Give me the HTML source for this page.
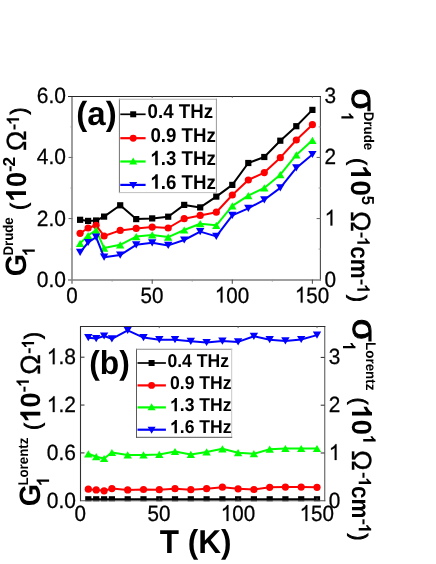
<!DOCTYPE html>
<html><head><meta charset="utf-8"><title>chart</title>
<style>
html,body{margin:0;padding:0;background:#fff;}
body{width:436px;height:564px;overflow:hidden;font-family:"Liberation Sans",sans-serif;}
svg{display:block;will-change:transform;}
svg text{font-family:"Liberation Sans",sans-serif;fill:#000;text-rendering:geometricPrecision;}
</style></head><body>
<svg width="436" height="564" viewBox="0 0 436 564">
<rect x="0" y="0" width="436" height="564" fill="#ffffff"/>

<!-- top panel data -->
<polyline points="80.1,219.8 88.1,220.9 96.1,220.5 104.1,216.6 120.2,205.3 136.2,219.1 152.2,218.4 168.2,216.7 184.2,204.9 200.2,207.4 216.3,196.6 232.3,184.9 248.3,163.0 264.3,157.0 280.3,140.7 296.3,126.2 312.4,109.9" fill="none" stroke="#000000" stroke-width="2.0" stroke-linejoin="round"/>
<rect x="77.0" y="216.7" width="6.2" height="6.2" fill="#000000"/>
<rect x="85.0" y="217.8" width="6.2" height="6.2" fill="#000000"/>
<rect x="93.0" y="217.4" width="6.2" height="6.2" fill="#000000"/>
<rect x="101.0" y="213.5" width="6.2" height="6.2" fill="#000000"/>
<rect x="117.1" y="202.2" width="6.2" height="6.2" fill="#000000"/>
<rect x="133.1" y="216.0" width="6.2" height="6.2" fill="#000000"/>
<rect x="149.1" y="215.3" width="6.2" height="6.2" fill="#000000"/>
<rect x="165.1" y="213.6" width="6.2" height="6.2" fill="#000000"/>
<rect x="181.1" y="201.8" width="6.2" height="6.2" fill="#000000"/>
<rect x="197.1" y="204.3" width="6.2" height="6.2" fill="#000000"/>
<rect x="213.2" y="193.5" width="6.2" height="6.2" fill="#000000"/>
<rect x="229.2" y="181.8" width="6.2" height="6.2" fill="#000000"/>
<rect x="245.2" y="159.9" width="6.2" height="6.2" fill="#000000"/>
<rect x="261.2" y="153.9" width="6.2" height="6.2" fill="#000000"/>
<rect x="277.2" y="137.6" width="6.2" height="6.2" fill="#000000"/>
<rect x="293.2" y="123.1" width="6.2" height="6.2" fill="#000000"/>
<rect x="309.3" y="106.8" width="6.2" height="6.2" fill="#000000"/>
<polyline points="80.1,233.3 88.1,228.0 96.1,225.3 104.1,236.0 120.2,230.4 136.2,228.4 152.2,227.1 168.2,228.0 184.2,218.7 200.2,215.4 216.3,212.2 232.3,195.0 248.3,180.0 264.3,172.6 280.3,157.7 296.3,140.0 312.4,124.7" fill="none" stroke="#ff0000" stroke-width="2.0" stroke-linejoin="round"/>
<circle cx="80.1" cy="233.3" r="3.6" fill="#ff0000"/>
<circle cx="88.1" cy="228.0" r="3.6" fill="#ff0000"/>
<circle cx="96.1" cy="225.3" r="3.6" fill="#ff0000"/>
<circle cx="104.1" cy="236.0" r="3.6" fill="#ff0000"/>
<circle cx="120.2" cy="230.4" r="3.6" fill="#ff0000"/>
<circle cx="136.2" cy="228.4" r="3.6" fill="#ff0000"/>
<circle cx="152.2" cy="227.1" r="3.6" fill="#ff0000"/>
<circle cx="168.2" cy="228.0" r="3.6" fill="#ff0000"/>
<circle cx="184.2" cy="218.7" r="3.6" fill="#ff0000"/>
<circle cx="200.2" cy="215.4" r="3.6" fill="#ff0000"/>
<circle cx="216.3" cy="212.2" r="3.6" fill="#ff0000"/>
<circle cx="232.3" cy="195.0" r="3.6" fill="#ff0000"/>
<circle cx="248.3" cy="180.0" r="3.6" fill="#ff0000"/>
<circle cx="264.3" cy="172.6" r="3.6" fill="#ff0000"/>
<circle cx="280.3" cy="157.7" r="3.6" fill="#ff0000"/>
<circle cx="296.3" cy="140.0" r="3.6" fill="#ff0000"/>
<circle cx="312.4" cy="124.7" r="3.6" fill="#ff0000"/>
<polyline points="80.1,243.4 88.1,235.5 96.1,230.2 104.1,248.1 120.2,244.8 136.2,236.6 152.2,234.9 168.2,237.1 184.2,230.0 200.2,223.7 216.3,225.3 232.3,205.9 248.3,195.6 264.3,187.9 280.3,174.7 296.3,154.9 312.4,140.3" fill="none" stroke="#00ff00" stroke-width="2.0" stroke-linejoin="round"/>
<polygon points="80.1,239.8 84.3,247.0 75.9,247.0" fill="#00ff00"/>
<polygon points="88.1,231.9 92.3,239.1 83.9,239.1" fill="#00ff00"/>
<polygon points="96.1,226.6 100.3,233.8 91.9,233.8" fill="#00ff00"/>
<polygon points="104.1,244.5 108.3,251.7 99.9,251.7" fill="#00ff00"/>
<polygon points="120.2,241.2 124.4,248.4 116.0,248.4" fill="#00ff00"/>
<polygon points="136.2,233.0 140.4,240.2 132.0,240.2" fill="#00ff00"/>
<polygon points="152.2,231.3 156.4,238.5 148.0,238.5" fill="#00ff00"/>
<polygon points="168.2,233.5 172.4,240.7 164.0,240.7" fill="#00ff00"/>
<polygon points="184.2,226.4 188.4,233.6 180.0,233.6" fill="#00ff00"/>
<polygon points="200.2,220.1 204.4,227.3 196.0,227.3" fill="#00ff00"/>
<polygon points="216.3,221.7 220.5,228.9 212.1,228.9" fill="#00ff00"/>
<polygon points="232.3,202.3 236.5,209.5 228.1,209.5" fill="#00ff00"/>
<polygon points="248.3,192.0 252.5,199.2 244.1,199.2" fill="#00ff00"/>
<polygon points="264.3,184.3 268.5,191.5 260.1,191.5" fill="#00ff00"/>
<polygon points="280.3,171.1 284.5,178.3 276.1,178.3" fill="#00ff00"/>
<polygon points="296.3,151.3 300.5,158.5 292.1,158.5" fill="#00ff00"/>
<polygon points="312.4,136.7 316.6,143.9 308.2,143.9" fill="#00ff00"/>
<polyline points="80.1,252.4 88.1,242.5 96.1,237.2 104.1,257.2 120.2,255.1 136.2,244.8 152.2,242.8 168.2,245.4 184.2,240.0 200.2,231.6 216.3,236.4 232.3,215.4 248.3,208.3 264.3,199.8 280.3,187.9 296.3,167.9 312.4,154.5" fill="none" stroke="#0000ff" stroke-width="2.0" stroke-linejoin="round"/>
<polygon points="75.9,248.8 84.3,248.8 80.1,256.0" fill="#0000ff"/>
<polygon points="83.9,238.9 92.3,238.9 88.1,246.1" fill="#0000ff"/>
<polygon points="91.9,233.6 100.3,233.6 96.1,240.8" fill="#0000ff"/>
<polygon points="99.9,253.6 108.3,253.6 104.1,260.8" fill="#0000ff"/>
<polygon points="116.0,251.5 124.4,251.5 120.2,258.7" fill="#0000ff"/>
<polygon points="132.0,241.2 140.4,241.2 136.2,248.4" fill="#0000ff"/>
<polygon points="148.0,239.2 156.4,239.2 152.2,246.4" fill="#0000ff"/>
<polygon points="164.0,241.8 172.4,241.8 168.2,249.0" fill="#0000ff"/>
<polygon points="180.0,236.4 188.4,236.4 184.2,243.6" fill="#0000ff"/>
<polygon points="196.0,228.0 204.4,228.0 200.2,235.2" fill="#0000ff"/>
<polygon points="212.1,232.8 220.5,232.8 216.3,240.0" fill="#0000ff"/>
<polygon points="228.1,211.8 236.5,211.8 232.3,219.0" fill="#0000ff"/>
<polygon points="244.1,204.7 252.5,204.7 248.3,211.9" fill="#0000ff"/>
<polygon points="260.1,196.2 268.5,196.2 264.3,203.4" fill="#0000ff"/>
<polygon points="276.1,184.3 284.5,184.3 280.3,191.5" fill="#0000ff"/>
<polygon points="292.1,164.3 300.5,164.3 296.3,171.5" fill="#0000ff"/>
<polygon points="308.2,150.9 316.6,150.9 312.4,158.1" fill="#0000ff"/>
<line x1="72.00" y1="96.40" x2="72.00" y2="283.70" stroke="#9a9a9a" stroke-width="1.9"/>
<line x1="320.40" y1="95.90" x2="320.40" y2="280.60" stroke="#484848" stroke-width="1.1"/>
<line x1="68.00" y1="96.40" x2="320.95" y2="96.40" stroke="#262626" stroke-width="1.05"/>
<line x1="68.00" y1="279.95" x2="320.95" y2="279.95" stroke="#808080" stroke-width="1.6"/>
<line x1="68.50" y1="218.53" x2="72.50" y2="218.53" stroke="#6e6e6e" stroke-width="1.1"/>
<line x1="68.50" y1="157.47" x2="72.50" y2="157.47" stroke="#6e6e6e" stroke-width="1.1"/>
<line x1="70.50" y1="249.07" x2="72.50" y2="249.07" stroke="#9a9a9a" stroke-width="1"/>
<line x1="70.50" y1="188.00" x2="72.50" y2="188.00" stroke="#9a9a9a" stroke-width="1"/>
<line x1="70.50" y1="126.93" x2="72.50" y2="126.93" stroke="#9a9a9a" stroke-width="1"/>
<line x1="316.60" y1="218.53" x2="320.60" y2="218.53" stroke="#6e6e6e" stroke-width="1.1"/>
<line x1="316.60" y1="157.47" x2="320.60" y2="157.47" stroke="#6e6e6e" stroke-width="1.1"/>
<line x1="318.60" y1="249.07" x2="320.60" y2="249.07" stroke="#9a9a9a" stroke-width="1"/>
<line x1="318.60" y1="188.00" x2="320.60" y2="188.00" stroke="#9a9a9a" stroke-width="1"/>
<line x1="318.60" y1="126.93" x2="320.60" y2="126.93" stroke="#9a9a9a" stroke-width="1"/>
<line x1="152.19" y1="279.60" x2="152.19" y2="283.80" stroke="#444" stroke-width="1.0"/>
<line x1="232.27" y1="279.60" x2="232.27" y2="283.80" stroke="#444" stroke-width="1.0"/>
<line x1="312.36" y1="279.60" x2="312.36" y2="283.80" stroke="#444" stroke-width="1.0"/>
<line x1="112.14" y1="279.60" x2="112.14" y2="281.60" stroke="#9a9a9a" stroke-width="1"/>
<line x1="192.23" y1="279.60" x2="192.23" y2="281.60" stroke="#9a9a9a" stroke-width="1"/>
<line x1="272.31" y1="279.60" x2="272.31" y2="281.60" stroke="#9a9a9a" stroke-width="1"/>
<line x1="152.19" y1="96.40" x2="152.19" y2="97.90" stroke="#666" stroke-width="1"/>
<line x1="232.27" y1="96.40" x2="232.27" y2="97.90" stroke="#666" stroke-width="1"/>
<line x1="312.36" y1="96.40" x2="312.36" y2="97.90" stroke="#666" stroke-width="1"/>
<g transform="translate(36.81,286.60) scale(1.000,1.050)"><text x="0.00" y="0" font-size="21.0" font-weight="normal" stroke="#000" stroke-width="0.25" style="white-space:pre">0.0</text></g>
<g transform="translate(36.81,225.53) scale(1.000,1.050)"><text x="0.00" y="0" font-size="21.0" font-weight="normal" stroke="#000" stroke-width="0.25" style="white-space:pre">2.0</text></g>
<g transform="translate(36.81,164.47) scale(1.000,1.050)"><text x="0.00" y="0" font-size="21.0" font-weight="normal" stroke="#000" stroke-width="0.25" style="white-space:pre">4.0</text></g>
<g transform="translate(36.81,103.40) scale(1.000,1.050)"><text x="0.00" y="0" font-size="21.0" font-weight="normal" stroke="#000" stroke-width="0.25" style="white-space:pre">6.0</text></g>
<g transform="translate(324.60,286.60) scale(1.000,1.060)"><text x="0.00" y="0" font-size="20.8" font-weight="normal" stroke="#000" stroke-width="0.25" style="white-space:pre">0</text></g>
<g transform="translate(324.60,225.53) scale(1.000,1.060)"><path transform="translate(0.00,0) scale(0.01016,-0.01016)" stroke="#000" stroke-width="24.6" d="M763 0H583V1147Q518 1085 412.5 1023T223 930V1104Q374 1175 487 1276T647 1472H763Z"/></g>
<g transform="translate(324.60,164.47) scale(1.000,1.060)"><text x="0.00" y="0" font-size="20.8" font-weight="normal" stroke="#000" stroke-width="0.25" style="white-space:pre">2</text></g>
<g transform="translate(324.60,103.40) scale(1.000,1.060)"><text x="0.00" y="0" font-size="20.8" font-weight="normal" stroke="#000" stroke-width="0.25" style="white-space:pre">3</text></g>
<g transform="translate(66.27,302.60) scale(1.000,1.070)"><text x="0.00" y="0" font-size="20.6" font-weight="normal" stroke="#000" stroke-width="0.25" style="white-space:pre">0</text></g>
<g transform="translate(140.43,302.60) scale(1.000,1.070)"><text x="0.00" y="0" font-size="20.6" font-weight="normal" stroke="#000" stroke-width="0.25" style="white-space:pre">50</text></g>
<g transform="translate(214.78,302.60) scale(1.000,1.070)"><path transform="translate(0.00,0) scale(0.01006,-0.01006)" stroke="#000" stroke-width="24.9" d="M763 0H583V1147Q518 1085 412.5 1023T223 930V1104Q374 1175 487 1276T647 1472H763Z"/><text x="11.45" y="0" font-size="20.6" font-weight="normal" stroke="#000" stroke-width="0.25" style="white-space:pre">00</text></g>
<g transform="translate(294.87,302.60) scale(1.000,1.070)"><path transform="translate(0.00,0) scale(0.01006,-0.01006)" stroke="#000" stroke-width="24.9" d="M763 0H583V1147Q518 1085 412.5 1023T223 930V1104Q374 1175 487 1276T647 1472H763Z"/><text x="11.45" y="0" font-size="20.6" font-weight="normal" stroke="#000" stroke-width="0.25" style="white-space:pre">50</text></g>
<rect x="119.4" y="99.2" width="97.0" height="93.4" fill="#fff"/>
<line x1="119.40" y1="98.70" x2="119.40" y2="193.10" stroke="#707070" stroke-width="1.0"/>
<line x1="118.90" y1="99.20" x2="216.90" y2="99.20" stroke="#b4b4b4" stroke-width="1.1"/>
<line x1="216.40" y1="98.70" x2="216.40" y2="193.10" stroke="#9a9a9a" stroke-width="1.0"/>
<line x1="118.90" y1="192.60" x2="216.90" y2="192.60" stroke="#c0c0c0" stroke-width="1.0"/>
<line x1="120.30" y1="114.30" x2="145.60" y2="114.30" stroke="#000000" stroke-width="1.7"/>
<rect x="130.2" y="111.3" width="6.0" height="6.0" fill="#000000"/>
<g transform="translate(147.60,118.10) scale(1.000,1.070)"><text x="0.00" y="0" font-size="18.7" font-weight="bold" style="white-space:pre">0.4 THz</text></g>
<line x1="120.30" y1="138.20" x2="145.60" y2="138.20" stroke="#ff0000" stroke-width="2.2"/>
<circle cx="133.2" cy="138.2" r="3.45" fill="#ff0000"/>
<g transform="translate(150.40,141.60) scale(1.000,1.070)"><text x="0.00" y="0" font-size="18.7" font-weight="bold" style="white-space:pre">0.9 THz</text></g>
<line x1="120.30" y1="161.50" x2="145.60" y2="161.50" stroke="#00ff00" stroke-width="2.2"/>
<polygon points="133.2,157.4 137.2,164.4 129.2,164.4" fill="#00ff00"/>
<g transform="translate(150.40,165.20) scale(1.000,1.070)"><path transform="translate(0.00,0) scale(0.00913,-0.00913)" d="M806 0H525V1059Q371 915 162 846V1101Q272 1137 401 1237.5T578 1472H806Z"/><text x="10.40" y="0" font-size="18.7" font-weight="bold" style="white-space:pre">.3 THz</text></g>
<line x1="120.30" y1="184.90" x2="145.60" y2="184.90" stroke="#0000ff" stroke-width="2.2"/>
<polygon points="129.2,182.0 137.2,182.0 133.2,189.0" fill="#0000ff"/>
<g transform="translate(150.40,188.70) scale(1.000,1.070)"><path transform="translate(0.00,0) scale(0.00913,-0.00913)" d="M806 0H525V1059Q371 915 162 846V1101Q272 1137 401 1237.5T578 1472H806Z"/><text x="10.40" y="0" font-size="18.7" font-weight="bold" style="white-space:pre">.6 THz</text></g>
<g transform="translate(76.35,124.60) scale(1.000,1.020)"><text x="0.00" y="0" font-size="33" font-weight="bold" style="white-space:pre">(a)</text></g>
<g transform="translate(26.0,277.0) rotate(-90)"><g transform="translate(0.76,0.00) scale(1.000,1.030)"><text x="0.00" y="0" font-size="28.6" font-weight="bold" style="white-space:pre">G</text></g><g transform="translate(20.99,8.80) scale(1.000,1.050)"><path transform="translate(0.00,0) scale(0.00806,-0.00806)" d="M806 0H525V1059Q371 915 162 846V1101Q272 1137 401 1237.5T578 1472H806Z"/></g><g transform="translate(21.40,-12.60) scale(0.990,1.050)"><text x="0.00" y="0" font-size="13.4" font-weight="bold" style="white-space:pre">Drude</text></g><g transform="translate(67.36,-0.40) scale(0.900,1.000)"><text x="0.00" y="0" font-size="22" font-weight="normal" stroke="#000" stroke-width="1.0" style="white-space:pre">(</text></g><g transform="translate(75.06,0.00) scale(1.020,1.050)"><path transform="translate(0.00,0) scale(0.01294,-0.01294)" d="M806 0H525V1059Q371 915 162 846V1101Q272 1137 401 1237.5T578 1472H806Z"/><text x="14.73" y="0" font-size="26.5" font-weight="bold" style="white-space:pre">0</text></g><g transform="translate(105.01,-11.40) scale(1.200,1.050)"><text x="0.00" y="0" font-size="16.5" font-weight="bold" style="white-space:pre">-</text></g><g transform="translate(110.59,-11.40) scale(1.050,1.050)"><text x="0.00" y="0" font-size="16.5" font-weight="bold" style="white-space:pre">2</text></g><g transform="translate(126.04,0.00) scale(1.030,1.050)"><text x="0.00" y="0" font-size="26.5" font-weight="normal" stroke="#000" stroke-width="0.35" style="white-space:pre">Ω</text></g><g transform="translate(146.71,-6.90) scale(1.200,1.050)"><text x="0.00" y="0" font-size="16.5" font-weight="bold" style="white-space:pre">-</text></g><g transform="translate(152.19,-6.90) scale(1.000,1.050)"><path transform="translate(0.00,0) scale(0.00806,-0.00806)" d="M806 0H525V1059Q371 915 162 846V1101Q272 1137 401 1237.5T578 1472H806Z"/></g><g transform="translate(162.65,-0.40) scale(0.900,1.000)"><text x="0.00" y="0" font-size="22" font-weight="normal" stroke="#000" stroke-width="1.0" style="white-space:pre">)</text></g></g>
<g transform="translate(351.0,88.0) rotate(90)"><g transform="translate(0.52,-0.60) scale(1.030,0.950)"><text x="0.00" y="0" font-size="36" font-weight="normal" stroke="#000" stroke-width="1.0" style="white-space:pre">σ</text></g><g transform="translate(24.13,9.60) scale(1.000,1.050)"><path transform="translate(0.00,0) scale(0.00781,-0.00781)" d="M806 0H525V1059Q371 915 162 846V1101Q272 1137 401 1237.5T578 1472H806Z"/></g><g transform="translate(23.80,-12.70) scale(0.990,1.050)"><text x="0.00" y="0" font-size="13.4" font-weight="bold" style="white-space:pre">Drude</text></g><g transform="translate(70.36,-0.40) scale(0.900,1.000)"><text x="0.00" y="0" font-size="22" font-weight="normal" stroke="#000" stroke-width="1.0" style="white-space:pre">(</text></g><g transform="translate(77.10,0.00) scale(1.050,1.050)"><path transform="translate(0.00,0) scale(0.01294,-0.01294)" d="M806 0H525V1059Q371 915 162 846V1101Q272 1137 401 1237.5T578 1472H806Z"/><text x="14.73" y="0" font-size="26.5" font-weight="bold" style="white-space:pre">0</text></g><g transform="translate(107.70,-10.80) scale(1.000,1.050)"><text x="0.00" y="0" font-size="16.5" font-weight="bold" style="white-space:pre">5</text></g><g transform="translate(123.14,0.00) scale(1.030,1.050)"><text x="0.00" y="0" font-size="26.5" font-weight="normal" stroke="#000" stroke-width="0.35" style="white-space:pre">Ω</text></g><g transform="translate(143.81,-6.30) scale(1.200,1.050)"><text x="0.00" y="0" font-size="16.5" font-weight="bold" style="white-space:pre">-</text></g><g transform="translate(149.29,-6.30) scale(1.000,1.050)"><path transform="translate(0.00,0) scale(0.00806,-0.00806)" d="M806 0H525V1059Q371 915 162 846V1101Q272 1137 401 1237.5T578 1472H806Z"/></g><g transform="translate(158.30,0.00) scale(1.000,1.120)"><text x="0.00" y="0" font-size="22.5" font-weight="bold" style="white-space:pre">cm</text></g><g transform="translate(190.81,-6.30) scale(1.200,1.050)"><text x="0.00" y="0" font-size="16.5" font-weight="bold" style="white-space:pre">-</text></g><g transform="translate(196.29,-6.30) scale(1.000,1.050)"><path transform="translate(0.00,0) scale(0.00806,-0.00806)" d="M806 0H525V1059Q371 915 162 846V1101Q272 1137 401 1237.5T578 1472H806Z"/></g><g transform="translate(207.15,-0.40) scale(0.900,1.000)"><text x="0.00" y="0" font-size="22" font-weight="normal" stroke="#000" stroke-width="1.0" style="white-space:pre">)</text></g></g>
<!-- bottom panel data -->
<clipPath id="cb"><rect x="80" y="326" width="245" height="175.2"/></clipPath><g clip-path="url(#cb)">
<polyline points="88.3,499.3 96.2,499.3 104.1,499.3 111.9,499.3 127.7,499.3 143.5,499.3 159.3,499.3 175.0,499.3 190.8,499.3 206.6,499.3 222.4,499.3 238.1,499.3 253.9,499.3 269.7,499.3 285.4,499.3 301.2,499.3 317.0,499.3" fill="none" stroke="#000000" stroke-width="2.0" stroke-linejoin="round"/>
<rect x="85.2" y="496.2" width="6.2" height="6.2" fill="#000000"/>
<rect x="93.1" y="496.2" width="6.2" height="6.2" fill="#000000"/>
<rect x="101.0" y="496.2" width="6.2" height="6.2" fill="#000000"/>
<rect x="108.8" y="496.2" width="6.2" height="6.2" fill="#000000"/>
<rect x="124.6" y="496.2" width="6.2" height="6.2" fill="#000000"/>
<rect x="140.4" y="496.2" width="6.2" height="6.2" fill="#000000"/>
<rect x="156.2" y="496.2" width="6.2" height="6.2" fill="#000000"/>
<rect x="171.9" y="496.2" width="6.2" height="6.2" fill="#000000"/>
<rect x="187.7" y="496.2" width="6.2" height="6.2" fill="#000000"/>
<rect x="203.5" y="496.2" width="6.2" height="6.2" fill="#000000"/>
<rect x="219.3" y="496.2" width="6.2" height="6.2" fill="#000000"/>
<rect x="235.0" y="496.2" width="6.2" height="6.2" fill="#000000"/>
<rect x="250.8" y="496.2" width="6.2" height="6.2" fill="#000000"/>
<rect x="266.6" y="496.2" width="6.2" height="6.2" fill="#000000"/>
<rect x="282.3" y="496.2" width="6.2" height="6.2" fill="#000000"/>
<rect x="298.1" y="496.2" width="6.2" height="6.2" fill="#000000"/>
<rect x="313.9" y="496.2" width="6.2" height="6.2" fill="#000000"/>
<polyline points="88.3,489.2 96.2,489.9 104.1,490.8 111.9,488.6 127.7,489.9 143.5,489.5 159.3,489.7 175.0,488.7 190.8,489.7 206.6,488.7 222.4,487.2 238.1,488.8 253.9,489.5 269.7,487.3 285.4,487.1 301.2,487.1 317.0,487.3" fill="none" stroke="#ff0000" stroke-width="2.0" stroke-linejoin="round"/>
<circle cx="88.3" cy="489.2" r="3.6" fill="#ff0000"/>
<circle cx="96.2" cy="489.9" r="3.6" fill="#ff0000"/>
<circle cx="104.1" cy="490.8" r="3.6" fill="#ff0000"/>
<circle cx="111.9" cy="488.6" r="3.6" fill="#ff0000"/>
<circle cx="127.7" cy="489.9" r="3.6" fill="#ff0000"/>
<circle cx="143.5" cy="489.5" r="3.6" fill="#ff0000"/>
<circle cx="159.3" cy="489.7" r="3.6" fill="#ff0000"/>
<circle cx="175.0" cy="488.7" r="3.6" fill="#ff0000"/>
<circle cx="190.8" cy="489.7" r="3.6" fill="#ff0000"/>
<circle cx="206.6" cy="488.7" r="3.6" fill="#ff0000"/>
<circle cx="222.4" cy="487.2" r="3.6" fill="#ff0000"/>
<circle cx="238.1" cy="488.8" r="3.6" fill="#ff0000"/>
<circle cx="253.9" cy="489.5" r="3.6" fill="#ff0000"/>
<circle cx="269.7" cy="487.3" r="3.6" fill="#ff0000"/>
<circle cx="285.4" cy="487.1" r="3.6" fill="#ff0000"/>
<circle cx="301.2" cy="487.1" r="3.6" fill="#ff0000"/>
<circle cx="317.0" cy="487.3" r="3.6" fill="#ff0000"/>
<polyline points="88.3,453.8 96.2,456.7 104.1,458.5 111.9,452.5 127.7,454.9 143.5,454.9 159.3,454.4 175.0,451.5 190.8,454.4 206.6,451.9 222.4,448.8 238.1,452.7 253.9,453.7 269.7,449.2 285.4,448.5 301.2,448.5 317.0,448.5" fill="none" stroke="#00ff00" stroke-width="2.0" stroke-linejoin="round"/>
<polygon points="88.3,450.2 92.5,457.4 84.1,457.4" fill="#00ff00"/>
<polygon points="96.2,453.1 100.4,460.3 92.0,460.3" fill="#00ff00"/>
<polygon points="104.1,454.9 108.3,462.1 99.9,462.1" fill="#00ff00"/>
<polygon points="111.9,448.9 116.1,456.1 107.7,456.1" fill="#00ff00"/>
<polygon points="127.7,451.3 131.9,458.5 123.5,458.5" fill="#00ff00"/>
<polygon points="143.5,451.3 147.7,458.5 139.3,458.5" fill="#00ff00"/>
<polygon points="159.3,450.8 163.5,458.0 155.1,458.0" fill="#00ff00"/>
<polygon points="175.0,447.9 179.2,455.1 170.8,455.1" fill="#00ff00"/>
<polygon points="190.8,450.8 195.0,458.0 186.6,458.0" fill="#00ff00"/>
<polygon points="206.6,448.3 210.8,455.5 202.4,455.5" fill="#00ff00"/>
<polygon points="222.4,445.2 226.6,452.4 218.2,452.4" fill="#00ff00"/>
<polygon points="238.1,449.1 242.3,456.3 233.9,456.3" fill="#00ff00"/>
<polygon points="253.9,450.1 258.1,457.3 249.7,457.3" fill="#00ff00"/>
<polygon points="269.7,445.6 273.9,452.8 265.5,452.8" fill="#00ff00"/>
<polygon points="285.4,444.9 289.6,452.1 281.2,452.1" fill="#00ff00"/>
<polygon points="301.2,444.9 305.4,452.1 297.0,452.1" fill="#00ff00"/>
<polygon points="317.0,444.9 321.2,452.1 312.8,452.1" fill="#00ff00"/>
<polyline points="88.3,337.7 96.2,338.6 104.1,336.0 111.9,338.8 127.7,330.4 143.5,337.6 159.3,339.7 175.0,339.7 190.8,341.3 206.6,342.5 222.4,341.1 238.1,341.9 253.9,336.3 269.7,339.7 285.4,340.9 301.2,339.5 317.0,335.1" fill="none" stroke="#0000ff" stroke-width="2.0" stroke-linejoin="round"/>
<polygon points="84.1,334.1 92.5,334.1 88.3,341.3" fill="#0000ff"/>
<polygon points="92.0,335.0 100.4,335.0 96.2,342.2" fill="#0000ff"/>
<polygon points="99.9,332.4 108.3,332.4 104.1,339.6" fill="#0000ff"/>
<polygon points="107.7,335.2 116.1,335.2 111.9,342.4" fill="#0000ff"/>
<polygon points="123.5,326.8 131.9,326.8 127.7,334.0" fill="#0000ff"/>
<polygon points="139.3,334.0 147.7,334.0 143.5,341.2" fill="#0000ff"/>
<polygon points="155.1,336.1 163.5,336.1 159.3,343.3" fill="#0000ff"/>
<polygon points="170.8,336.1 179.2,336.1 175.0,343.3" fill="#0000ff"/>
<polygon points="186.6,337.7 195.0,337.7 190.8,344.9" fill="#0000ff"/>
<polygon points="202.4,338.9 210.8,338.9 206.6,346.1" fill="#0000ff"/>
<polygon points="218.2,337.5 226.6,337.5 222.4,344.7" fill="#0000ff"/>
<polygon points="233.9,338.3 242.3,338.3 238.1,345.5" fill="#0000ff"/>
<polygon points="249.7,332.7 258.1,332.7 253.9,339.9" fill="#0000ff"/>
<polygon points="265.5,336.1 273.9,336.1 269.7,343.3" fill="#0000ff"/>
<polygon points="281.2,337.3 289.6,337.3 285.4,344.5" fill="#0000ff"/>
<polygon points="297.0,335.9 305.4,335.9 301.2,343.1" fill="#0000ff"/>
<polygon points="312.8,331.5 321.2,331.5 317.0,338.7" fill="#0000ff"/>
</g>
<line x1="80.50" y1="326.00" x2="80.50" y2="501.25" stroke="#303030" stroke-width="1.1"/>
<line x1="324.70" y1="326.00" x2="324.70" y2="501.25" stroke="#777" stroke-width="1.3"/>
<line x1="80.50" y1="326.50" x2="325.30" y2="326.50" stroke="#2c2c2c" stroke-width="1.05"/>
<line x1="80.50" y1="500.75" x2="325.30" y2="500.75" stroke="#555" stroke-width="1.1"/>
<line x1="80.50" y1="452.90" x2="84.50" y2="452.90" stroke="#3c3c3c" stroke-width="1.1"/>
<line x1="80.50" y1="405.05" x2="84.50" y2="405.05" stroke="#3c3c3c" stroke-width="1.1"/>
<line x1="80.50" y1="357.20" x2="84.50" y2="357.20" stroke="#3c3c3c" stroke-width="1.1"/>
<line x1="320.70" y1="452.98" x2="324.70" y2="452.98" stroke="#3c3c3c" stroke-width="1.1"/>
<line x1="320.70" y1="405.21" x2="324.70" y2="405.21" stroke="#3c3c3c" stroke-width="1.1"/>
<line x1="320.70" y1="357.44" x2="324.70" y2="357.44" stroke="#3c3c3c" stroke-width="1.1"/>
<line x1="159.26" y1="497.75" x2="159.26" y2="500.75" stroke="#3c3c3c" stroke-width="1.0"/>
<line x1="159.26" y1="326.50" x2="159.26" y2="328.10" stroke="#666" stroke-width="1.0"/>
<line x1="238.13" y1="497.75" x2="238.13" y2="500.75" stroke="#3c3c3c" stroke-width="1.0"/>
<line x1="238.13" y1="326.50" x2="238.13" y2="328.10" stroke="#666" stroke-width="1.0"/>
<line x1="317.00" y1="497.75" x2="317.00" y2="500.75" stroke="#3c3c3c" stroke-width="1.0"/>
<line x1="317.00" y1="326.50" x2="317.00" y2="328.10" stroke="#666" stroke-width="1.0"/>
<g transform="translate(46.81,507.75) scale(1.000,1.050)"><text x="0.00" y="0" font-size="21.0" font-weight="normal" stroke="#000" stroke-width="0.25" style="white-space:pre">0.0</text></g>
<g transform="translate(46.81,459.90) scale(1.000,1.050)"><text x="0.00" y="0" font-size="21.0" font-weight="normal" stroke="#000" stroke-width="0.25" style="white-space:pre">0.6</text></g>
<g transform="translate(46.81,412.05) scale(1.000,1.050)"><path transform="translate(0.00,0) scale(0.01025,-0.01025)" stroke="#000" stroke-width="24.4" d="M763 0H583V1147Q518 1085 412.5 1023T223 930V1104Q374 1175 487 1276T647 1472H763Z"/><text x="11.68" y="0" font-size="21.0" font-weight="normal" stroke="#000" stroke-width="0.25" style="white-space:pre">.2</text></g>
<g transform="translate(46.81,364.20) scale(1.000,1.050)"><path transform="translate(0.00,0) scale(0.01025,-0.01025)" stroke="#000" stroke-width="24.4" d="M763 0H583V1147Q518 1085 412.5 1023T223 930V1104Q374 1175 487 1276T647 1472H763Z"/><text x="11.68" y="0" font-size="21.0" font-weight="normal" stroke="#000" stroke-width="0.25" style="white-space:pre">.8</text></g>
<g transform="translate(328.80,507.75) scale(1.000,1.060)"><text x="0.00" y="0" font-size="20.8" font-weight="normal" stroke="#000" stroke-width="0.25" style="white-space:pre">0</text></g>
<g transform="translate(328.80,459.98) scale(1.000,1.060)"><path transform="translate(0.00,0) scale(0.01016,-0.01016)" stroke="#000" stroke-width="24.6" d="M763 0H583V1147Q518 1085 412.5 1023T223 930V1104Q374 1175 487 1276T647 1472H763Z"/></g>
<g transform="translate(328.80,412.21) scale(1.000,1.060)"><text x="0.00" y="0" font-size="20.8" font-weight="normal" stroke="#000" stroke-width="0.25" style="white-space:pre">2</text></g>
<g transform="translate(328.80,364.44) scale(1.000,1.060)"><text x="0.00" y="0" font-size="20.8" font-weight="normal" stroke="#000" stroke-width="0.25" style="white-space:pre">3</text></g>
<g transform="translate(74.47,520.90) scale(1.000,1.070)"><text x="0.00" y="0" font-size="20.6" font-weight="normal" stroke="#000" stroke-width="0.25" style="white-space:pre">0</text></g>
<g transform="translate(147.61,520.90) scale(1.000,1.070)"><text x="0.00" y="0" font-size="20.6" font-weight="normal" stroke="#000" stroke-width="0.25" style="white-space:pre">50</text></g>
<g transform="translate(220.74,520.90) scale(1.000,1.070)"><path transform="translate(0.00,0) scale(0.01006,-0.01006)" stroke="#000" stroke-width="24.9" d="M763 0H583V1147Q518 1085 412.5 1023T223 930V1104Q374 1175 487 1276T647 1472H763Z"/><text x="11.45" y="0" font-size="20.6" font-weight="normal" stroke="#000" stroke-width="0.25" style="white-space:pre">00</text></g>
<g transform="translate(299.61,520.90) scale(1.000,1.070)"><path transform="translate(0.00,0) scale(0.01006,-0.01006)" stroke="#000" stroke-width="24.9" d="M763 0H583V1147Q518 1085 412.5 1023T223 930V1104Q374 1175 487 1276T647 1472H763Z"/><text x="11.45" y="0" font-size="20.6" font-weight="normal" stroke="#000" stroke-width="0.25" style="white-space:pre">50</text></g>
<rect x="136.5" y="349.3" width="95.2" height="88.0" fill="#fff"/>
<line x1="136.50" y1="348.80" x2="136.50" y2="437.80" stroke="#5a5a5a" stroke-width="1.0"/>
<line x1="136.00" y1="349.30" x2="232.20" y2="349.30" stroke="#8a8a8a" stroke-width="1.1"/>
<line x1="231.70" y1="348.80" x2="231.70" y2="437.80" stroke="#c8c8c8" stroke-width="1.0"/>
<line x1="136.00" y1="437.30" x2="232.20" y2="437.30" stroke="#555555" stroke-width="1.0"/>
<line x1="137.50" y1="363.00" x2="165.90" y2="363.00" stroke="#000000" stroke-width="1.7"/>
<rect x="148.6" y="360.0" width="6.0" height="6.0" fill="#000000"/>
<g transform="translate(167.40,366.90) scale(1.000,1.050)"><text x="0.00" y="0" font-size="17.6" font-weight="bold" style="white-space:pre">0.4 THz</text></g>
<line x1="137.50" y1="385.40" x2="165.90" y2="385.40" stroke="#ff0000" stroke-width="2.2"/>
<circle cx="151.6" cy="385.4" r="3.45" fill="#ff0000"/>
<g transform="translate(170.00,389.10) scale(1.000,1.050)"><text x="0.00" y="0" font-size="17.6" font-weight="bold" style="white-space:pre">0.9 THz</text></g>
<line x1="137.50" y1="407.40" x2="165.90" y2="407.40" stroke="#00ff00" stroke-width="2.2"/>
<polygon points="151.6,403.3 155.6,410.3 147.6,410.3" fill="#00ff00"/>
<g transform="translate(170.00,411.30) scale(1.000,1.050)"><path transform="translate(0.00,0) scale(0.00859,-0.00859)" d="M806 0H525V1059Q371 915 162 846V1101Q272 1137 401 1237.5T578 1472H806Z"/><text x="9.79" y="0" font-size="17.6" font-weight="bold" style="white-space:pre">.3 THz</text></g>
<line x1="137.50" y1="429.70" x2="165.90" y2="429.70" stroke="#0000ff" stroke-width="2.2"/>
<polygon points="147.6,426.8 155.6,426.8 151.6,433.8" fill="#0000ff"/>
<g transform="translate(170.00,433.20) scale(1.000,1.050)"><path transform="translate(0.00,0) scale(0.00859,-0.00859)" d="M806 0H525V1059Q371 915 162 846V1101Q272 1137 401 1237.5T578 1472H806Z"/><text x="9.79" y="0" font-size="17.6" font-weight="bold" style="white-space:pre">.6 THz</text></g>
<g transform="translate(89.21,374.20) scale(1.000,1.040)"><text x="0.00" y="0" font-size="31.8" font-weight="bold" style="white-space:pre">(b)</text></g>
<g transform="translate(159.80,552.90) scale(1.000,1.050)"><text x="0.00" y="0" font-size="31.5" font-weight="bold" style="white-space:pre">T (K)</text></g>
<g transform="translate(40.3,507.0) rotate(-90)"><g transform="translate(0.76,0.00) scale(1.000,1.030)"><text x="0.00" y="0" font-size="28.6" font-weight="bold" style="white-space:pre">G</text></g><g transform="translate(20.99,8.80) scale(1.000,1.050)"><path transform="translate(0.00,0) scale(0.00806,-0.00806)" d="M806 0H525V1059Q371 915 162 846V1101Q272 1137 401 1237.5T578 1472H806Z"/></g><g transform="translate(21.40,-12.60) scale(0.990,1.050)"><text x="0.00" y="0" font-size="13.4" font-weight="bold" style="white-space:pre">Lorentz</text></g><g transform="translate(77.16,-0.40) scale(0.900,1.000)"><text x="0.00" y="0" font-size="22" font-weight="normal" stroke="#000" stroke-width="1.0" style="white-space:pre">(</text></g><g transform="translate(84.56,0.00) scale(1.020,1.050)"><path transform="translate(0.00,0) scale(0.01294,-0.01294)" d="M806 0H525V1059Q371 915 162 846V1101Q272 1137 401 1237.5T578 1472H806Z"/><text x="14.73" y="0" font-size="26.5" font-weight="bold" style="white-space:pre">0</text></g><g transform="translate(114.61,-11.40) scale(1.200,1.050)"><text x="0.00" y="0" font-size="16.5" font-weight="bold" style="white-space:pre">-</text></g><g transform="translate(120.09,-11.40) scale(1.000,1.050)"><path transform="translate(0.00,0) scale(0.00806,-0.00806)" d="M806 0H525V1059Q371 915 162 846V1101Q272 1137 401 1237.5T578 1472H806Z"/></g><g transform="translate(132.14,0.00) scale(1.030,1.050)"><text x="0.00" y="0" font-size="26.5" font-weight="normal" stroke="#000" stroke-width="0.35" style="white-space:pre">Ω</text></g><g transform="translate(153.11,-6.20) scale(1.200,1.050)"><text x="0.00" y="0" font-size="16.5" font-weight="bold" style="white-space:pre">-</text></g><g transform="translate(158.59,-6.20) scale(1.000,1.050)"><path transform="translate(0.00,0) scale(0.00806,-0.00806)" d="M806 0H525V1059Q371 915 162 846V1101Q272 1137 401 1237.5T578 1472H806Z"/></g><g transform="translate(168.35,-0.40) scale(0.900,1.000)"><text x="0.00" y="0" font-size="22" font-weight="normal" stroke="#000" stroke-width="1.0" style="white-space:pre">)</text></g></g>
<g transform="translate(352.0,318.3) rotate(90)"><g transform="translate(0.52,-0.60) scale(1.030,0.950)"><text x="0.00" y="0" font-size="36" font-weight="normal" stroke="#000" stroke-width="1.0" style="white-space:pre">σ</text></g><g transform="translate(23.39,9.00) scale(1.000,1.050)"><path transform="translate(0.00,0) scale(0.00806,-0.00806)" d="M806 0H525V1059Q371 915 162 846V1101Q272 1137 401 1237.5T578 1472H806Z"/></g><g transform="translate(23.80,-13.60) scale(1.000,1.050)"><text x="0.00" y="0" font-size="13.4" font-weight="bold" style="white-space:pre">Lorentz</text></g><g transform="translate(79.56,-0.40) scale(0.900,1.000)"><text x="0.00" y="0" font-size="22" font-weight="normal" stroke="#000" stroke-width="1.0" style="white-space:pre">(</text></g><g transform="translate(86.34,0.00) scale(1.030,1.050)"><path transform="translate(0.00,0) scale(0.01294,-0.01294)" d="M806 0H525V1059Q371 915 162 846V1101Q272 1137 401 1237.5T578 1472H806Z"/><text x="14.73" y="0" font-size="26.5" font-weight="bold" style="white-space:pre">0</text></g><g transform="translate(116.59,-11.20) scale(1.000,1.050)"><path transform="translate(0.00,0) scale(0.00806,-0.00806)" d="M806 0H525V1059Q371 915 162 846V1101Q272 1137 401 1237.5T578 1472H806Z"/></g><g transform="translate(131.84,0.00) scale(1.030,1.050)"><text x="0.00" y="0" font-size="26.5" font-weight="normal" stroke="#000" stroke-width="0.35" style="white-space:pre">Ω</text></g><g transform="translate(153.61,-6.70) scale(1.200,1.050)"><text x="0.00" y="0" font-size="16.5" font-weight="bold" style="white-space:pre">-</text></g><g transform="translate(159.09,-6.70) scale(1.000,1.050)"><path transform="translate(0.00,0) scale(0.00806,-0.00806)" d="M806 0H525V1059Q371 915 162 846V1101Q272 1137 401 1237.5T578 1472H806Z"/></g><g transform="translate(167.70,0.00) scale(1.000,1.120)"><text x="0.00" y="0" font-size="22.5" font-weight="bold" style="white-space:pre">cm</text></g><g transform="translate(200.11,-6.70) scale(1.200,1.050)"><text x="0.00" y="0" font-size="16.5" font-weight="bold" style="white-space:pre">-</text></g><g transform="translate(205.59,-6.70) scale(1.000,1.050)"><path transform="translate(0.00,0) scale(0.00806,-0.00806)" d="M806 0H525V1059Q371 915 162 846V1101Q272 1137 401 1237.5T578 1472H806Z"/></g><g transform="translate(215.35,-0.40) scale(0.900,1.000)"><text x="0.00" y="0" font-size="22" font-weight="normal" stroke="#000" stroke-width="1.0" style="white-space:pre">)</text></g></g>
</svg></body></html>
